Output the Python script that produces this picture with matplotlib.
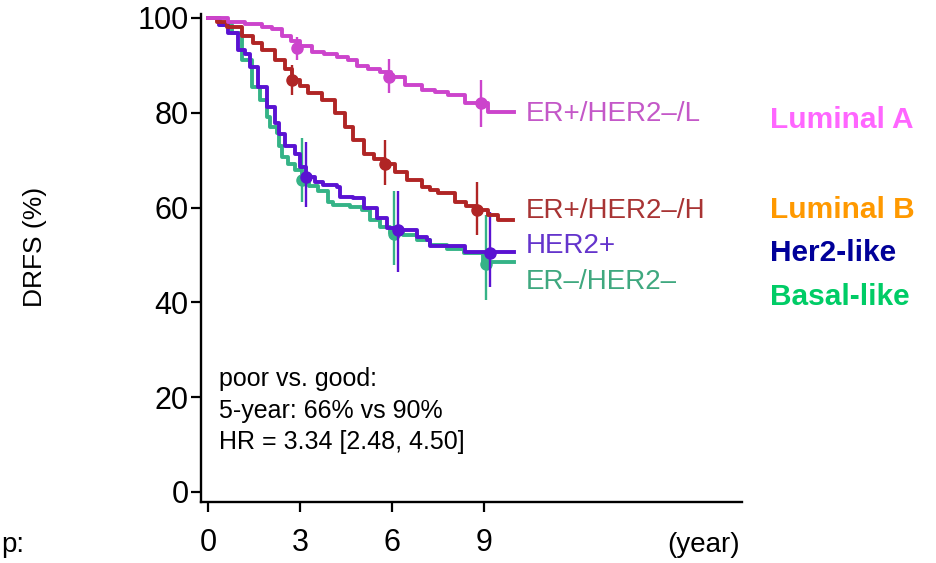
import matplotlib
matplotlib.use("Agg")
from matplotlib import pyplot as plt

plt.rcParams['font.family'] = ['Liberation Sans', 'DejaVu Sans']

# step curves (year, DRFS %)
t_lumA = [0, 0.66, 1.2, 1.75, 2.1, 2.4, 2.7, 3.0, 3.38, 3.77, 4.2, 4.57, 4.86,
          5.2, 5.6, 5.95, 6.42, 6.97, 7.4, 7.84, 8.38, 9.14, 9.97]
s_lumA = [100, 99.2, 98.8, 98.2, 97.6, 96.1, 95.1, 94, 92.9, 92.4, 91.8, 91.1, 89.8,
          89.2, 88.5, 87.6, 85.9, 84.8, 84.3, 83.8, 82, 80.2, 80.2]

t_lumB = [0, 0.3, 0.61, 1.1, 1.45, 1.75, 2.18, 2.5, 2.75, 3.0, 3.27, 3.7, 4.14,
          4.47, 4.74, 5.07, 5.4, 5.77, 6.1, 6.48, 6.97, 7.24, 7.51, 8.05, 8.4,
          8.76, 9.14, 9.47, 9.93]
s_lumB = [100, 99.2, 98.2, 96.1, 94.8, 93.2, 91.1, 89.2, 87, 85.6, 84.1, 82.7, 79.9,
          77.1, 74.3, 71.4, 70.3, 69.3, 67.5, 65.8, 64.4, 63.7, 63, 61.2, 60.4,
          59.5, 58.4, 57.4, 57.4]

t_her2 = [0, 0.35, 0.66, 0.99, 1.2, 1.37, 1.64, 1.91, 2.18, 2.3, 2.5, 2.84, 3.0,
          3.2, 3.5, 3.76, 4.2, 4.3, 4.74, 5.07, 5.5, 5.83, 6.2, 6.8, 7.13, 7.24,
          8.38, 9.96]
s_her2 = [100, 98.5, 96.8, 93.2, 92.5, 89.7, 85.5, 81.3, 77.8, 75.5, 73, 71.4, 68.5,
          66.4, 65.5, 64.8, 64.4, 62.3, 62, 59.9, 57.7, 55.6, 55.3, 53.9, 53.2, 51.8,
          50.7, 50.7]

t_basal = [0, 0.4, 0.77, 1.1, 1.42, 1.7, 1.91, 2.02, 2.24, 2.3, 2.4, 2.6, 2.84,
           3.07, 3.3, 3.6, 3.92, 4.09, 4.63, 5.01, 5.28, 5.6, 5.93, 6.37, 6.8,
           7.24, 7.8, 8.33, 8.98, 9.96]
s_basal = [100, 98.6, 96.8, 91.1, 85.5, 82.7, 79.2, 77.1, 75.7, 73, 70.7, 69.3, 67.9,
           65.8, 64.6, 63.4, 61.2, 60.5, 60.2, 59.5, 57.4, 56, 54.6, 54.2, 53.2,
           52.1, 51.2, 50.4, 48.6, 48.6]

# point estimates with confidence intervals
mk_t = {'lumA': [2.9, 5.9, 8.9], 'lumB': [2.75, 5.77, 8.76],
        'her2': [3.2, 6.18, 9.2], 'basal': [3.07, 6.07, 9.05]}
mk_s = {'lumA': [93.7, 87.6, 82], 'lumB': [86.9, 69.3, 59.5],
        'her2': [66.4, 55.3, 50.5], 'basal': [65.8, 54.4, 48.2]}
ci_lo = {'lumA': [91.1, 84.2, 77], 'lumB': [83.8, 64.8, 54.2],
         'her2': [60.1, 46.5, 43.3], 'basal': [61.2, 47.9, 40.5]}
ci_hi = {'lumA': [96, 91.3, 86.9], 'lumB': [90.1, 74.3, 65.5],
         'her2': [73.9, 63.4, 59.1], 'basal': [74.6, 63.4, 58.4]}

curve_labels = {'lumA': 'ER+/HER2\u2013/L', 'lumB': 'ER+/HER2\u2013/H',
                'her2': 'HER2+', 'basal': 'ER\u2013/HER2\u2013'}
label_y = {'lumA': 79.8, 'lumB': 59.2, 'her2': 51.8, 'basal': 44.4}

subtypes = ['Luminal A', 'Luminal B', 'Her2-like', 'Basal-like']
subtype_colors = ['#FF66FF', '#FF9900', '#000099', '#00CC66']

x_ticks = [0, 3, 6, 9]
y_ticks = [0, 20, 40, 60, 80, 100]

line_col = {'lumA': '#CC44CC', 'lumB': '#B02525', 'her2': '#5A12D2', 'basal': '#35B387'}
text_col = {'lumA': '#C458C8', 'lumB': '#A83434', 'her2': '#6434CC', 'basal': '#3FA87F'}

curves = {'basal': (t_basal, s_basal), 'her2': (t_her2, s_her2),
          'lumB': (t_lumB, s_lumB), 'lumA': (t_lumA, s_lumA)}

fig = plt.figure(figsize=(9.37, 5.63), dpi=100)
ax = fig.add_axes([201 / 937, 61 / 563, 541 / 937, 488 / 563])

for key, (t, s) in curves.items():
    c = line_col[key]
    ax.plot(t, s, drawstyle='steps-post', color=c, lw=2.8)
    ax.vlines(mk_t[key], ci_lo[key], ci_hi[key], color=c, lw=1.7)
    ax.plot(mk_t[key], mk_s[key], 'o', color=c, ms=8)
    ax.text(10.36, label_y[key], curve_labels[key], color=text_col[key],
            fontsize=20, ha='left', va='center')

ax.set_xlim(-0.23, 17.41)
ax.set_ylim(-2.11, 100.84)
ax.set_xticks(x_ticks)
ax.set_yticks(y_ticks)
ax.tick_params(axis='both', labelsize=22, length=7, width=1.6, direction='out')
ax.tick_params(axis='y', pad=2)
ax.tick_params(axis='x', pad=12)
for side in ['top', 'right']:
    ax.spines[side].set_visible(False)
for side in ['left', 'bottom']:
    ax.spines[side].set_linewidth(1.7)

ax.text(0.35, 26.3, "poor vs. good:\n5-year: 66% vs 90%\nHR = 3.34 [2.48, 4.50]",
        fontsize=18, ha='left', va='top', linespacing=1.38)

fig.text(35 / 937, 1 - 247 / 563, 'DRFS (%)', rotation=90, fontsize=19,
         ha='center', va='center')
fig.text(704 / 937, 1 - 545 / 563, '(year)', fontsize=20, ha='center', va='center')
fig.text(1 / 937, 1 - 545 / 563, 'p:', fontsize=20, ha='left', va='center')

sub_y = [120, 210, 253, 297]
for name, col, yy in zip(subtypes, subtype_colors, sub_y):
    fig.text(770 / 937, 1 - yy / 563, name, color=col, fontsize=21.5,
             fontweight='bold', ha='left', va='center')

fig.savefig('out.png', dpi=100)
